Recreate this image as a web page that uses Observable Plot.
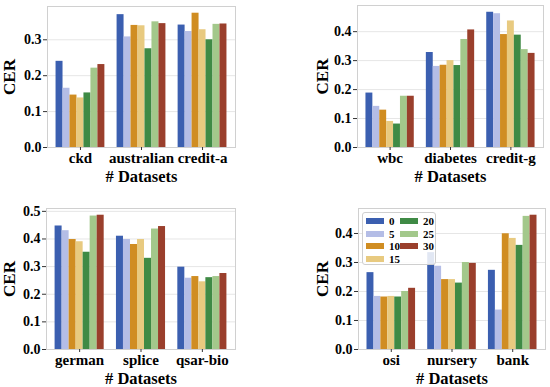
<!DOCTYPE html>
<html>
<head>
<meta charset="utf-8">
<script src="https://cdn.jsdelivr.net/npm/d3@7"></script>
<script src="https://cdn.jsdelivr.net/npm/@observablehq/plot@0.6"></script>
<style>
  html, body { margin: 0; padding: 0; background: #fff; }
  #wrap { position: relative; width: 550px; height: 387px; overflow: hidden; font-family: "Liberation Serif", "DejaVu Serif", serif; }
  #wrap svg { position: absolute; font-family: "Liberation Serif", serif; }
  g[aria-label="y-axis label"] text { font-size: 17px; font-weight: bold; }
  g[aria-label="x-axis label"] text { font-size: 16.5px; font-weight: bold; }
  #legend { position: absolute; left: 362px; top: 212px; width: 74px; height: 53px; border: 1px solid #cfcfcf; border-radius: 3px; background: rgba(255,255,255,0.85); box-sizing: border-box; font-weight: bold; font-size: 11px; }
  #legend .item { position: absolute; display: flex; align-items: center; }
  #legend .sw { width: 18px; height: 6px; margin-right: 5px; }
</style>
</head>
<body>
<div id="wrap"></div>
<script>
const settings = ["0", "5", "10", "15", "20", "25", "30"];
const colors = ["#3b5fb0", "#b4bde6", "#d08d22", "#e8ca80", "#3f8a45", "#a3c88b", "#9a3f2c"];

const datasets1 = ["ckd", "australian", "credit-a"];
const values1 = [
  [0.240, 0.165, 0.146, 0.138, 0.152, 0.221, 0.231],
  [0.370, 0.308, 0.340, 0.339, 0.275, 0.350, 0.345],
  [0.341, 0.323, 0.374, 0.328, 0.300, 0.343, 0.344]
];
const yTicks1 = [0.0, 0.1, 0.2, 0.3];

const datasets2 = ["wbc", "diabetes", "credit-g"];
const values2 = [
  [0.188, 0.142, 0.129, 0.090, 0.081, 0.177, 0.177],
  [0.328, 0.280, 0.284, 0.300, 0.283, 0.373, 0.406],
  [0.467, 0.462, 0.390, 0.437, 0.388, 0.338, 0.325]
];
const yTicks2 = [0.0, 0.1, 0.2, 0.3, 0.4];

const datasets3 = ["german", "splice", "qsar-bio"];
const values3 = [
  [0.447, 0.430, 0.398, 0.390, 0.352, 0.483, 0.486],
  [0.410, 0.398, 0.380, 0.398, 0.330, 0.436, 0.445],
  [0.298, 0.258, 0.264, 0.245, 0.260, 0.264, 0.275]
];
const yTicks3 = [0.0, 0.1, 0.2, 0.3, 0.4, 0.5];

const datasets4 = ["osi", "nursery", "bank"];
const values4 = [
  [0.265, 0.183, 0.181, 0.183, 0.181, 0.200, 0.211],
  [0.334, 0.287, 0.241, 0.241, 0.229, 0.300, 0.297],
  [0.273, 0.136, 0.399, 0.383, 0.359, 0.459, 0.463]
];
const yTicks4 = [0.0, 0.1, 0.2, 0.3, 0.4];

const xLabel = "# Datasets";
const yLabel = "CER";

function panel(datasets, values, yTicks, box) {
  const groupWidth = 0.8;
  const bw = groupWidth / settings.length;
  const rows = [];
  datasets.forEach((d, i) => {
    settings.forEach((s, j) => {
      const x1 = i - groupWidth / 2 + j * bw;
      rows.push({dataset: d, setting: s, cer: values[i][j], x1, x2: x1 + bw});
    });
  });
  const maxV = d3.max(values.flat());
  const chart = Plot.plot({
    width: box.w, height: box.h,
    marginLeft: box.ml, marginRight: box.mr, marginTop: box.mt, marginBottom: box.mb,
    style: {fontFamily: "Liberation Serif, serif", background: "transparent", overflow: "visible"},
    x: {domain: [-0.54, datasets.length - 1 + 0.54]},
    y: {domain: [0, maxV * 1.05]},
    color: {domain: settings, range: colors},
    marks: [
      Plot.gridY(yTicks, {stroke: "#e6e6e6", strokeOpacity: 1}),
      Plot.rectY(rows, {x1: "x1", x2: "x2", y1: 0, y2: "cer", fill: "setting"}),
      Plot.frame({stroke: "#d0d0d0"}),
      Plot.axisY(yTicks, {tickFormat: d3.format(".1f"), tickSize: 4, tickPadding: 2, fontSize: 14, fontWeight: "bold", label: yLabel, labelAnchor: "center", labelArrow: false, labelOffset: box.lo, stroke: "#333"}),
      Plot.axisX(datasets.map((d, i) => i), {tickFormat: i => datasets[i], tickSize: 3, tickPadding: 2, fontSize: 15, fontWeight: "bold", label: xLabel, labelAnchor: "center", labelOffset: box.xlo, labelArrow: false, stroke: "#333"})
    ]
  });
  chart.style.left = box.left + "px";
  chart.style.top = box.top + "px";
  return chart;
}

const wrap = document.getElementById("wrap");
wrap.appendChild(panel(datasets1, values1, yTicks1, {left: 0, top: 0, w: 275, h: 195, ml: 47, mr: 40, mt: 6, mb: 48, lo: 45, xlo: 34}));
wrap.appendChild(panel(datasets2, values2, yTicks2, {left: 275, top: 0, w: 275, h: 195, ml: 82, mr: 7, mt: 5, mb: 48, lo: 42, xlo: 34}));
wrap.appendChild(panel(datasets3, values3, yTicks3, {left: 0, top: 195, w: 275, h: 192, ml: 46, mr: 40, mt: 13, mb: 38, lo: 44, xlo: 34}));
wrap.appendChild(panel(datasets4, values4, yTicks4, {left: 275, top: 195, w: 275, h: 192, ml: 83, mr: 5, mt: 13, mb: 38, lo: 43, xlo: 34}));

// legend
const legend = document.createElement("div");
legend.id = "legend";
const colOf = i => (i < 4 ? 0 : 1);
const rowOf = i => (i < 4 ? i : i - 4);
settings.forEach((s, i) => {
  const item = document.createElement("div");
  item.className = "item";
  item.style.left = (colOf(i) === 0 ? 3 : 37) + "px";
  item.style.top = (2 + rowOf(i) * 12.5) + "px";
  const sw = document.createElement("span");
  sw.className = "sw";
  sw.style.background = colors[i];
  const t = document.createElement("span");
  t.textContent = s;
  item.appendChild(sw);
  item.appendChild(t);
  legend.appendChild(item);
});
wrap.appendChild(legend);
</script>
</body>
</html>
